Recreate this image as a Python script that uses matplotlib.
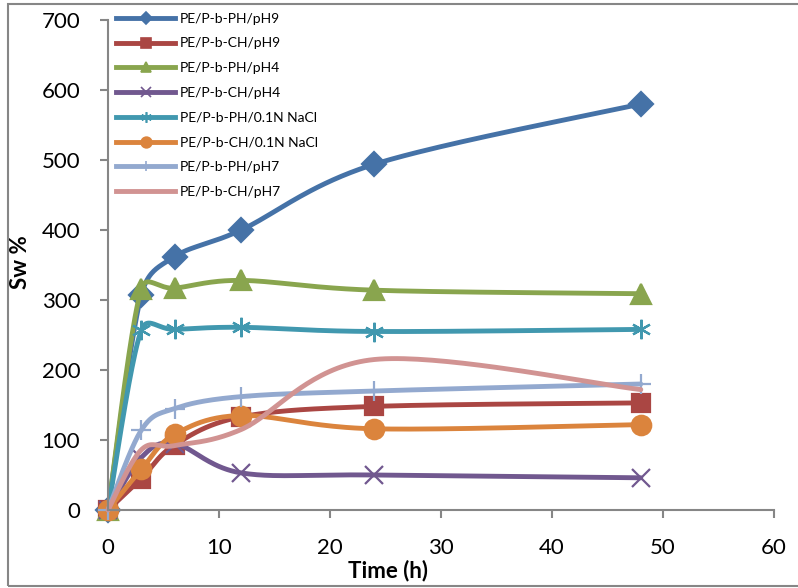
import matplotlib.pyplot as plt
import numpy as np
from matplotlib.lines import Line2D
from matplotlib.patches import Rectangle

plt.rcParams['font.family'] = ['Lato', 'DejaVu Sans']

# data
time_h = [0, 3, 6, 12, 24, 48]
ph_ph9 = [0, 307, 362, 400, 494, 580]
ch_ph9 = [0, 45, 93, 133, 148, 153]
ph_ph4 = [0, 316, 317, 328, 314, 309]
ch_ph4 = [0, 75, 95, 53, 50, 46]
ph_nacl = [0, 257, 258, 261, 255, 258]
ch_nacl = [0, 58, 108, 135, 116, 122]
ph_ph7 = [0, 114, 145, 162, 170, 180]
ch_ph7 = [0, 86, 92, 115, 215, 172]

labels = ['PE/P-b-PH/pH9', 'PE/P-b-CH/pH9', 'PE/P-b-PH/pH4', 'PE/P-b-CH/pH4',
          'PE/P-b-PH/0.1N NaCl', 'PE/P-b-CH/0.1N NaCl', 'PE/P-b-PH/pH7', 'PE/P-b-CH/pH7']
series = [ph_ph9, ch_ph9, ph_ph4, ch_ph4, ph_nacl, ch_nacl, ph_ph7, ch_ph7]
colors = ['#4572A7', '#AA4643', '#89A54E', '#71588F',
          '#4198AF', '#DB843D', '#93A9CF', '#D19392']
markers = ['D', 's', '^', 'x', (6, 2, 0), 'o', '+', None]
msizes = [12, 13, 14, 13, 14, 14, 14, 0]

# pixel scale of the axes, used so the smoothing works in screen space
SX = 666 / 60.0
SY = 490 / 700.0


def clamp(h, seg, k=0.5):
    lh = np.hypot(*h)
    ls = np.hypot(*seg)
    if lh > k * ls and lh > 0:
        h = h * (k * ls / lh)
    return h


def smooth(x, y, n=40):
    # excel style bezier smoothing through the points
    p = np.column_stack([np.array(x) * SX, np.array(y) * SY]).astype(float)
    out = [p[0]]
    for i in range(len(p) - 1):
        p0 = p[i - 1] if i > 0 else p[i]
        p3 = p[i + 2] if i + 2 < len(p) else p[i + 1]
        seg = p[i + 1] - p[i]
        h1 = clamp((p[i + 1] - p0) / 6.0, seg)
        h2 = clamp((p3 - p[i]) / 6.0, seg)
        c1 = p[i] + h1
        c2 = p[i + 1] - h2
        t = np.linspace(0, 1, n)[1:, None]
        b = ((1 - t) ** 3 * p[i] + 3 * (1 - t) ** 2 * t * c1
             + 3 * (1 - t) * t ** 2 * c2 + t ** 3 * p[i + 1])
        out.extend(b)
    out = np.array(out)
    return out[:, 0] / SX, out[:, 1] / SY


fig = plt.figure(figsize=(7.98, 5.88), dpi=100)
ax = fig.add_axes([108 / 798, 1 - 510 / 588, 666 / 798, 490 / 588])

handles = []
for vals, lab, col, mk, ms in zip(series, labels, colors, markers, msizes):
    sx, sy = smooth(time_h, vals)
    ax.plot(sx, sy, color=col, lw=3.5, solid_capstyle='round')
    if mk is not None:
        ax.plot(time_h, vals, ls='none', marker=mk, ms=ms, color=col,
                mec=col, mew=1.6)
    handles.append(Line2D([0], [0], color=col, lw=3.5, marker=mk,
                          ms=ms * 0.55, mec=col, mew=1.2))

ax.set_xlim(0, 60)
ax.set_ylim(0, 700)
ax.set_xticks(np.arange(0, 61, 10))
ax.set_yticks(np.arange(0, 701, 100))
ax.tick_params(labelsize=16, direction='out', length=6, width=1.5,
               color='#868686')
ax.tick_params(axis='y', pad=14)
ax.tick_params(axis='x', pad=14)
for s in ['top', 'right']:
    ax.spines[s].set_visible(False)
for s in ['left', 'bottom']:
    ax.spines[s].set_color('#868686')
    ax.spines[s].set_linewidth(1.5)
for ln in ax.lines:
    ln.set_clip_on(False)

ax.set_xlabel('Time (h)', fontsize=16, fontweight='bold')
ax.xaxis.set_label_coords(280 / 666, -50 / 490)
ax.set_ylabel('Sw %', fontsize=16, fontweight='bold')
ax.yaxis.set_label_coords(-77 / 666, 0.505)

ax.legend(handles=handles, labels=labels, loc='upper left',
          bbox_to_anchor=(0.0, 1.032), frameon=False, fontsize=10,
          handlelength=4.2, handletextpad=0.4, labelspacing=0.92,
          borderaxespad=0.2)

fig.patches.append(Rectangle((8 / 798, 2 / 588), 1.0, 1 - 6 / 588,
                             transform=fig.transFigure, fill=False,
                             edgecolor='#868686', lw=1.5))

fig.savefig('out.png', dpi=100)
